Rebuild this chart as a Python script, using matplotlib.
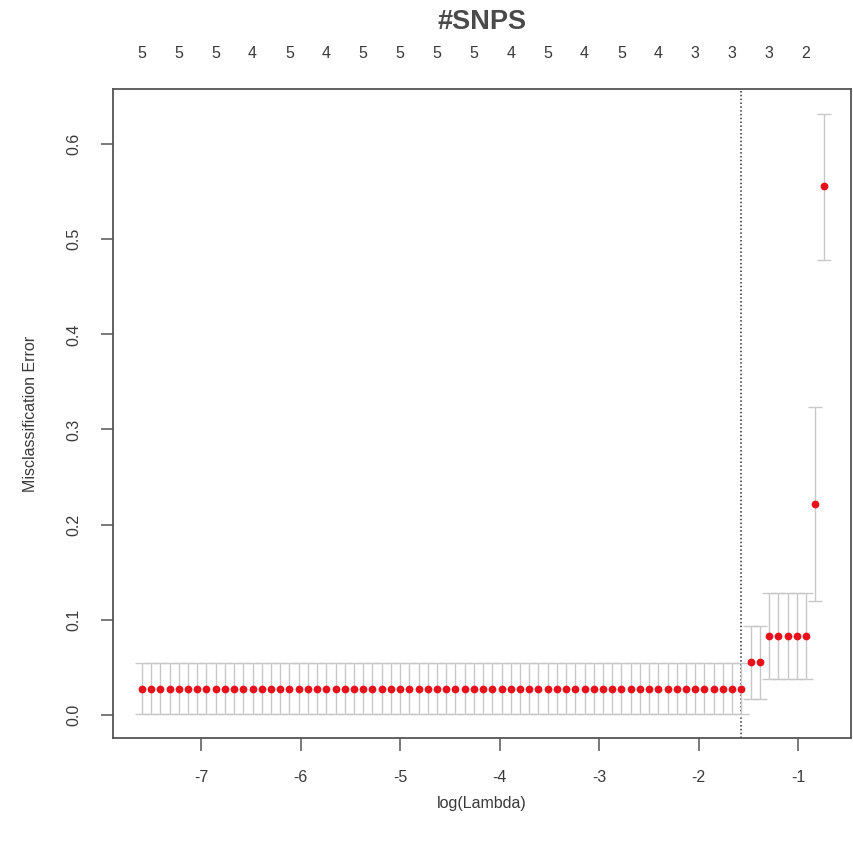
import matplotlib
matplotlib.use("Agg")
import matplotlib.pyplot as plt
import numpy as np

# ---- data ----
log_lambda = [-7.597, -7.504, -7.411, -7.319, -7.226, -7.133, -7.041, -6.948, -6.855, -6.763,
              -6.670, -6.577, -6.485, -6.392, -6.299, -6.207, -6.114, -6.021, -5.928, -5.836,
              -5.743, -5.650, -5.558, -5.465, -5.372, -5.280, -5.187, -5.094, -5.002, -4.909,
              -4.816, -4.723, -4.631, -4.538, -4.445, -4.353, -4.260, -4.167, -4.075, -3.982,
              -3.889, -3.797, -3.704, -3.611, -3.518, -3.426, -3.333, -3.240, -3.148, -3.055,
              -2.962, -2.870, -2.777, -2.684, -2.592, -2.499, -2.406, -2.313, -2.221, -2.128,
              -2.035, -1.943, -1.850, -1.757, -1.665, -1.572, -1.479, -1.387, -1.294, -1.201,
              -1.108, -1.016, -0.923, -0.830, -0.738]
cv_mean = [0.0278] * 66 + [0.0556] * 2 + [0.0833] * 5 + [0.2222, 0.5556]
cv_upper = [0.0545] * 66 + [0.094] * 2 + [0.128] * 5 + [0.324, 0.632]
cv_lower = [0.001] * 66 + [0.017] * 2 + [0.038] * 5 + [0.120, 0.478]
lambda_min_index = 65
nzero_labels = ["5", "5", "5", "4", "5", "4", "5", "5", "5", "5",
                "4", "5", "4", "5", "4", "3", "3", "3", "2"]
x_ticks = [-7, -6, -5, -4, -3, -2, -1]
y_ticks = [0.0, 0.1, 0.2, 0.3, 0.4, 0.5, 0.6]
y_tick_labels = ["0.0", "0.1", "0.2", "0.3", "0.4", "0.5", "0.6"]

# ---- drawing ----
plt.rcParams['font.family'] = ['Liberation Sans', 'DejaVu Sans']
W, H = 854, 842
fig = plt.figure(figsize=(W / 100, H / 100), dpi=100)
fig.patch.set_facecolor('white')
L, R, T, B = 113, 851, 89, 738
ax = fig.add_axes([L / W, 1 - B / H, (R - L) / W, (B - T) / H])

x = np.array(log_lambda)
bar_grey = '#c8c8c8'
capw = 0.072
ax.vlines(x, cv_lower, cv_upper, color=bar_grey, lw=1.0, zorder=2)
ax.hlines(cv_upper, x - capw, x + capw, color=bar_grey, lw=1.0, zorder=2)
ax.hlines(cv_lower, x - capw, x + capw, color=bar_grey, lw=1.0, zorder=2)
ax.plot(x, cv_mean, 'o', color='#e8101a', ms=5.6, mec='none', zorder=3)
ax.axvline(log_lambda[lambda_min_index], color='#333333', ls=(0, (1, 1.5)), lw=1.1, zorder=1)

ax.set_xlim(-7.887, -0.47)
ax.set_ylim(-0.0242, 0.6578)

axis_col = '#555555'
text_col = '#3a3a3a'
for s in ax.spines.values():
    s.set_color(axis_col)
    s.set_linewidth(1.3)

ax.set_xticks(x_ticks)
ax.set_xticklabels([str(v) for v in x_ticks])
ax.set_yticks(y_ticks)
ax.set_yticklabels(y_tick_labels, rotation=90, va='center')
ax.tick_params(axis='both', direction='out', length=9, width=1.1, color=axis_col,
               labelcolor=text_col, labelsize=11.5)
ax.tick_params(axis='x', pad=14)
ax.tick_params(axis='y', pad=14)

ax.set_xlabel('log(Lambda)', fontsize=11.5, color=text_col, labelpad=8)
ax.set_ylabel('Misclassification Error', fontsize=11.5, color=text_col, labelpad=20)

top = ax.secondary_xaxis('top')
top.set_xticks(log_lambda[::4])
top.set_xticklabels(nzero_labels)
top.tick_params(length=0, pad=20, labelsize=11.5, labelcolor=text_col)
top.spines['top'].set_visible(False)

fig.text(482 / W, 1 - 22 / H, '#SNPS', ha='center', va='center', fontsize=19.5,
         fontweight='bold', color='#4a4a4a')

fig.savefig('out.png', dpi=100, facecolor='white')
